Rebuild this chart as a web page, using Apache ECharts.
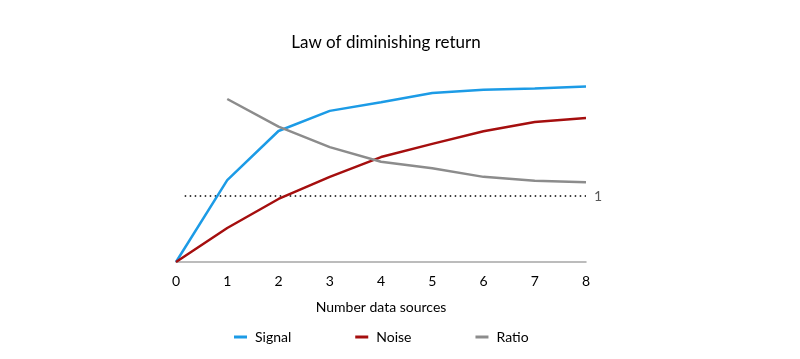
<!DOCTYPE html>
<html><head><meta charset="utf-8">
<script src="https://cdn.jsdelivr.net/npm/echarts@6/dist/echarts.min.js"></script>
<style>html,body{margin:0;padding:0;background:#fff}#c{width:800px;height:359px}</style>
</head><body><div id="c"></div>
<script>
const categories = ['0','1','2','3','4','5','6','7','8'];
const signal = [0, 1.24, 1.985, 2.29, 2.42, 2.56, 2.61, 2.63, 2.66];
const noise = [0, 0.515, 0.955, 1.29, 1.59, 1.79, 1.98, 2.12, 2.18];
const ratio = [null, 2.47, 2.05, 1.74, 1.52, 1.42, 1.29, 1.23, 1.21];
const unityLine = [[0.17, 1], [8, 1]];
const font = 'Lato, "Open Sans", sans-serif';
const chart = echarts.init(document.getElementById('c'));
chart.setOption({
  animation: false,
  textStyle: {fontFamily: font},
  title: {text: 'Law of diminishing return', left: 381, top: 29, textAlign: 'center',
    textStyle: {fontFamily: font, fontSize: 17, fontWeight: 'normal', color: '#000'}},
  grid: {left: 176, right: 214, top: 64, bottom: 97},
  legend: {left: 229, top: 325, itemWidth: 13, itemHeight: 3, itemGap: 64, icon: 'rect',
    textStyle: {fontFamily: font, fontSize: 14, color: '#000', padding: [0,0,0,3]},
    data: ['Signal','Noise','Ratio']},
  xAxis: [{type: 'category', data: categories, boundaryGap: false,
    name: 'Number data sources', nameLocation: 'middle', nameGap: 38,
    nameTextStyle: {fontFamily: font, fontSize: 14, color: '#000'},
    axisLine: {lineStyle: {color: '#a6a6a6', width: 1.5}},
    axisTick: {show: false},
    axisLabel: {color: '#000', fontSize: 14, margin: 12, fontFamily: font}},
    {type: 'value', min: 0, max: 8, show: false}],
  yAxis: {type: 'value', min: 0, max: 3, show: false, splitLine: {show: false}},
  series: [
    {name: 'unity', type: 'line', xAxisIndex: 1, data: unityLine, symbol: 'none', silent: true,
      lineStyle: {color: '#000', type: [1.5, 3.5], width: 1.5},
      endLabel: {show: true, formatter: '1', color: '#595959', fontSize: 14, fontFamily: font, distance: 8}},
    {name: 'Signal', type: 'line', data: signal, symbol: 'none', lineStyle: {color: '#1c9be6', width: 2.5}, itemStyle: {color: '#1c9be6'}},
    {name: 'Noise', type: 'line', data: noise, symbol: 'none', lineStyle: {color: '#a50e0e', width: 2.5}, itemStyle: {color: '#a50e0e'}},
    {name: 'Ratio', type: 'line', data: ratio, symbol: 'none', lineStyle: {color: '#8c8c8c', width: 2.5}, itemStyle: {color: '#8c8c8c'}}
  ]
});
</script></body></html>
